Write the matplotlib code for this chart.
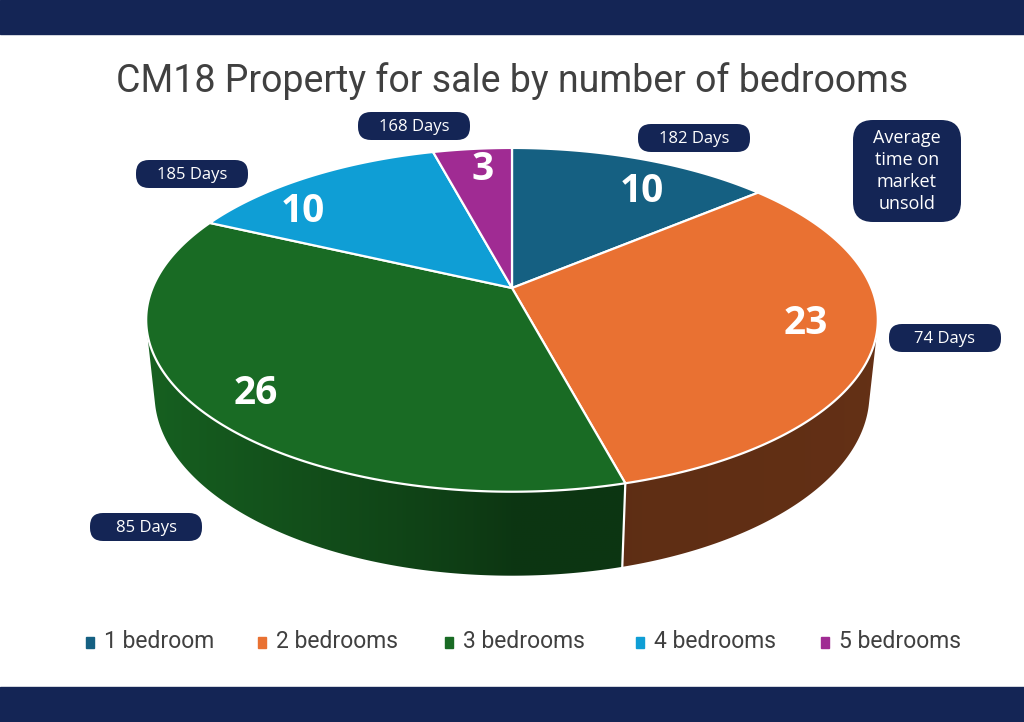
import numpy as np
import matplotlib.pyplot as plt
from matplotlib.patches import Polygon, FancyBboxPatch
from matplotlib.colors import to_rgb

# data
labels = ["1 bedroom", "2 bedrooms", "3 bedrooms", "4 bedrooms", "5 bedrooms"]
counts = [10, 23, 26, 10, 3]
days = ["182 Days", "74 Days", "85 Days", "185 Days", "168 Days"]
colors = ["#156082", "#E97132", "#196B24", "#0F9ED5", "#A02B93"]

NAVY = "#142555"
TEXT = "#404040"

# camera for the tilted disc
PHI = np.radians(27.5)
DIST = 4.79
FOCAL = 1722.0
THICK = 0.235
CX, CY = 512, 288


def project(x, y, z):
    s, c = np.sin(PHI), np.cos(PHI)
    dx, dy, dz = x, y + DIST * c, z - DIST * s
    yc = dy * s + dz * c
    zc = dy * c - dz * s
    return CX + FOCAL * dx / zc, CY - FOCAL * yc / zc


def wall_shade(i, t):
    # t in degrees on the front half, -180..0
    if i == 1:
        return 0.40 + 0.04 * np.clip((t + 90) / 90, -1, 1)
    f = np.clip(-np.cos(np.radians(t)), 0, 1)
    return 0.50 + 0.42 * f ** 0.8


fig = plt.figure(figsize=(10.24, 7.22), dpi=100)
ax = fig.add_axes([0, 0, 1, 1])
ax.set_xlim(0, 1024)
ax.set_ylim(722, 0)
ax.axis("off")

# navy bands
ax.add_patch(plt.Rectangle((0, 0), 1024, 34, color=NAVY, zorder=0))
ax.add_patch(plt.Rectangle((0, 687), 1024, 35, color=NAVY, zorder=0))

total = sum(counts)
bounds = [90.0]
for v in counts:
    bounds.append(bounds[-1] - 360.0 * v / total)

# side walls, front-facing part only, filled with a clipped gradient
vis_lim = np.degrees(np.arcsin(1.0 / (DIST * np.cos(PHI))))
for i, col in enumerate(colors):
    a0, a1 = bounds[i + 1], bounds[i]
    for shift in (0, -360, 360):
        lo, hi = a0 + shift, a1 + shift
        lo2, hi2 = max(lo, -180 + vis_lim), min(hi, -vis_lim)
        if hi2 <= lo2:
            continue
        th = np.linspace(lo2, hi2, 300)
        top = [project(np.cos(np.radians(t)), np.sin(np.radians(t)), 0) for t in th]
        bot = [project(np.cos(np.radians(t)), np.sin(np.radians(t)), -THICK) for t in th]
        poly = Polygon(top + bot[::-1], closed=True, fc="none", ec="none")
        ax.add_patch(poly)
        xs = np.array([p[0] for p in top])
        order = np.argsort(xs)
        x0, x1 = xs.min() - 2, xs.max() + 2
        gx = np.linspace(x0, x1, 400)
        tg = np.interp(gx, xs[order], th[order])
        base = np.array(to_rgb(col))
        img = np.array([base * wall_shade(i, t) for t in tg])[None, :, :]
        y0 = min(p[1] for p in top) - 2
        y1 = max(p[1] for p in bot) + 2
        im = ax.imshow(img, extent=(x0, x1, y1, y0), aspect="auto",
                       interpolation="bilinear", zorder=2)
        im.set_clip_path(poly)
        # white vertical edge where a slice boundary falls on the wall
        for edge in (lo, hi):
            if lo2 < edge < hi2 or (edge == lo and lo > -180 + vis_lim):
                r = np.radians(edge)
                p0 = project(np.cos(r), np.sin(r), 0)
                p1 = project(np.cos(r), np.sin(r), -THICK)
                ax.plot([p0[0], p1[0]], [p0[1], p1[1]], color="white", lw=1.6, zorder=3)

# top faces
apex = project(0, 0, 0)
for i, col in enumerate(colors):
    th = np.radians(np.linspace(bounds[i], bounds[i + 1], 200))
    rim = [project(np.cos(t), np.sin(t), 0) for t in th]
    ax.add_patch(Polygon([apex] + rim, closed=True, fc=col, ec="white", lw=1.6,
                         joinstyle="round", zorder=4))

# value labels
label_xy = [(642, 192), (806, 324), (256, 394), (303, 211), (483, 170)]
for (x, y), v in zip(label_xy, counts):
    ax.text(x, y, str(v), color="white", fontsize=28, fontweight="bold",
            family="Open Sans", ha="center", va="center", zorder=6)

# day badges
badge_pos = [(694, 138), (945, 338), (146, 527), (192, 174), (414, 126)]
for (bx, by), txt in zip(badge_pos, days):
    w, h = 112, 28
    ax.add_patch(FancyBboxPatch((bx - w / 2, by - h / 2), w, h,
                                boxstyle="round,pad=0,rounding_size=13",
                                fc=NAVY, ec="none", zorder=7))
    ax.text(bx, by + 1, txt, color="white", fontsize=12, family="Open Sans",
            ha="center", va="center", zorder=8)

ax.add_patch(FancyBboxPatch((853, 120), 108, 102, boxstyle="round,pad=0,rounding_size=20",
                            fc=NAVY, ec="none", zorder=7))
ax.text(907, 171, "Average\ntime on\nmarket\nunsold", color="white", fontsize=13,
        family="Open Sans", ha="center", va="center", linespacing=1.3, zorder=8)

# title
ax.text(512, 81, "CM18 Property for sale by number of bedrooms", color=TEXT,
        fontsize=27, family="Roboto", ha="center", va="center")

# legend
leg_x = [90, 262, 449, 640, 825]
for x, lab, col in zip(leg_x, labels, colors):
    ax.add_patch(plt.Rectangle((x - 4, 637), 8, 11, color=col, zorder=5))
    ax.text(x + 14, 642, lab, color=TEXT, fontsize=16.5, family="Roboto",
            ha="left", va="center")

fig.savefig("out.png", dpi=100)
